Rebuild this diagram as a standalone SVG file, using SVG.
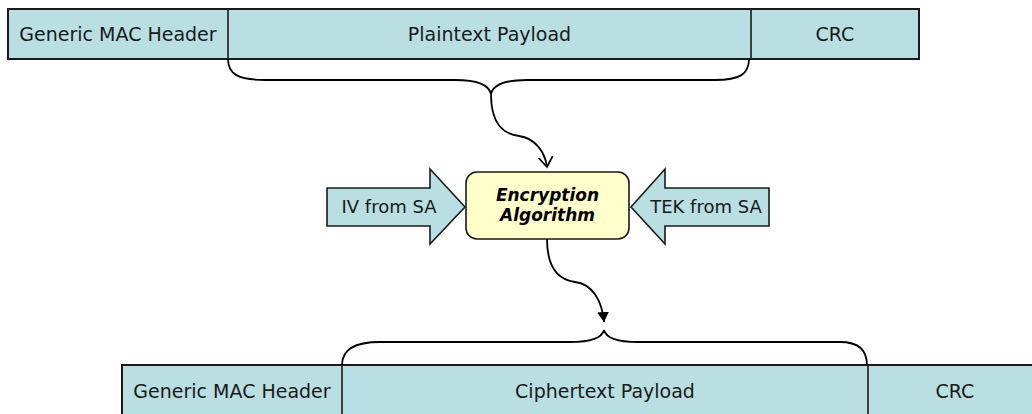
<svg xmlns="http://www.w3.org/2000/svg" width="1032" height="414" viewBox="0 0 1032 414">
<style>
.field{fill:#b9dfe2;stroke:#1a1a1a;stroke-width:2}
.div{stroke:#1a1a1a;stroke-width:1.6;fill:none}
.t{font-family:"DejaVu Sans",Verdana,sans-serif;font-size:19px;fill:#1a1a1a;text-anchor:middle}
.ta{font-family:"DejaVu Sans",Verdana,sans-serif;font-size:18px;fill:#1a1a1a;text-anchor:middle}
.tb{font-family:"DejaVu Sans",Verdana,sans-serif;font-size:17px;font-weight:bold;font-style:italic;fill:#000;text-anchor:middle}
.con{fill:none;stroke:#000;stroke-width:1.8}
.big{fill:#b9dfe2;stroke:#1a1a1a;stroke-width:1.6;stroke-linejoin:miter}
</style>
<defs>
<marker id="open" markerUnits="userSpaceOnUse" markerWidth="20" markerHeight="20" refX="10" refY="10" orient="auto">
<polyline points="0,3 10,10 0,17" fill="none" stroke="#000" stroke-width="1.8"/>
</marker>
<marker id="fill" markerUnits="userSpaceOnUse" markerWidth="20" markerHeight="20" refX="10" refY="10" orient="auto">
<polygon points="0,4 10,10 0,16" fill="#000"/>
</marker>
</defs>

<g id="top-frame">
<rect class="field" x="8" y="9" width="911" height="50"/>
<line class="div" x1="228" y1="9" x2="228" y2="59"/>
<line class="div" x1="751" y1="9" x2="751" y2="59"/>
<text class="t" x="118" y="41">Generic MAC Header</text>
<text class="t" x="489.5" y="41">Plaintext Payload</text>
<text class="t" x="835" y="41">CRC</text>
</g>

<g id="encryption">
<rect x="466" y="172" width="163" height="67" rx="11" ry="11" fill="#ffffcc" stroke="#1a1a1a" stroke-width="1.6"/>
<text class="tb" x="547.5" y="201">Encryption</text>
<text class="tb" x="547.5" y="221">Algorithm</text>
</g>

<g id="iv">
<polygon class="big" points="327,188 430,188 430,169 465,207 430,244 430,226 327,226"/>
<text class="ta" x="389" y="213">IV from SA</text>
</g>

<g id="tek">
<polygon class="big" points="769,188 665,188 665,169 631,207 665,244 665,226 769,226"/>
<text class="ta" x="706" y="213">TEK from SA</text>
</g>

<g id="bottom-frame">
<rect class="field" x="122" y="365" width="920" height="52"/>
<line class="div" x1="342" y1="365" x2="342" y2="417"/>
<line class="div" x1="868" y1="365" x2="868" y2="417"/>
<text class="t" x="232" y="398">Generic MAC Header</text>
<text class="t" x="605" y="398">Ciphertext Payload</text>
<text class="t" x="955" y="398">CRC</text>
</g>

<g id="connectors">
<path class="con" d="M228,59 C228,74 238,80 265,80 L455,80 C478,80 489,85 491,94 C493,85 504,80 527,80 L715,80 C740,80 749,74 749,59"/>
<path class="con" d="M491,94 C491,124 503,134 519,136 C535,138 545,152 547,167" marker-end="url(#open)"/>
<path class="con" d="M547,239 C547,270 560,280 575,282 C592,284 602,300 604,322" marker-end="url(#fill)"/>
<path class="con" d="M342,365 C342,350 355,342 380,342 L570,342 C592,342 602,338 604,330 C606,338 616,342 638,342 L840,342 C858,342 867,350 867,365"/>
</g>
</svg>
